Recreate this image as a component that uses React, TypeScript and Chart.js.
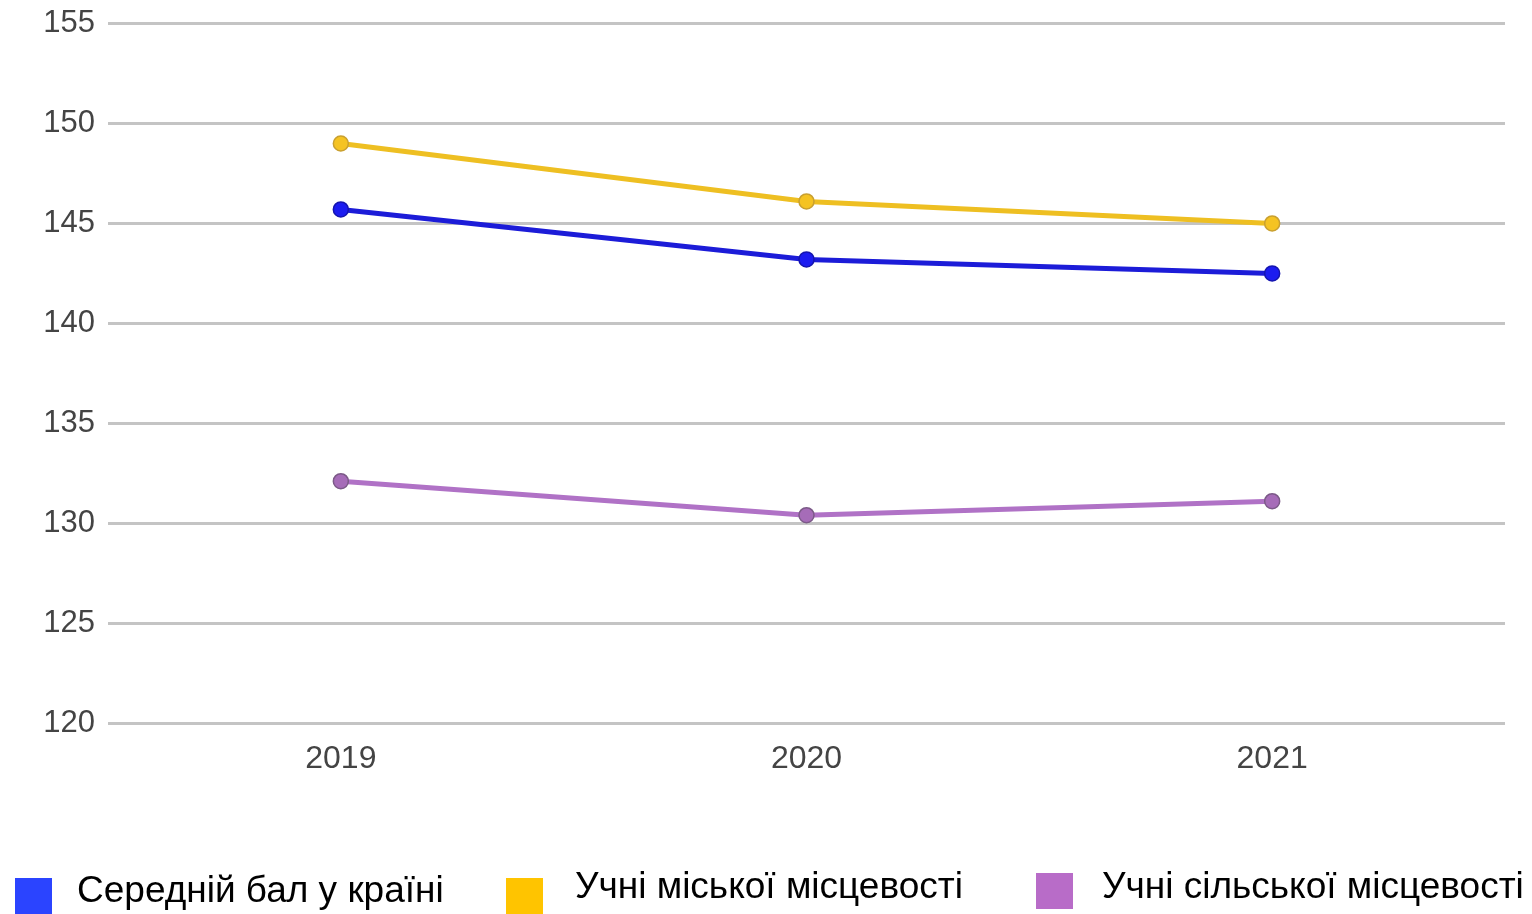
import React, { useEffect, useRef } from "react";
import { Chart, registerables } from "chart.js";

Chart.register(...registerables);

const years = ["2019", "2020", "2021"];
const countryAvg = [145.7, 143.2, 142.5];
const urban = [149.0, 146.1, 145.0];
const rural = [132.1, 130.4, 131.1];
const seriesNames = ["Середній бал у країні", "Учні міської місцевості", "Учні сільської місцевості"];
const yTicks = [120, 125, 130, 135, 140, 145, 150, 155];

const FONT = "'Liberation Sans', Arial, sans-serif";
const SHIFT = 8;
const CANVAS_H = 914 + SHIFT;

export default function App() {
  const ref = useRef<HTMLCanvasElement | null>(null);
  useEffect(() => {
    document.body.style.margin = "0";
    const ctx = ref.current!;
    const chart = new Chart(ctx, {
      type: "line",
      data: {
        labels: years,
        datasets: [
          {
            label: seriesNames[0],
            data: countryAvg,
            borderColor: "#1c1cd8",
            backgroundColor: "#1c1cf0",
            pointBorderColor: "#1515b0",
            borderWidth: 5,
            pointRadius: 7.5,
            pointBorderWidth: 1.5,
          },
          {
            label: seriesNames[1],
            data: urban,
            borderColor: "#eebf22",
            backgroundColor: "#f5c322",
            pointBorderColor: "#c9a030",
            borderWidth: 5,
            pointRadius: 7.5,
            pointBorderWidth: 1.5,
          },
          {
            label: seriesNames[2],
            data: rural,
            borderColor: "#b072c6",
            backgroundColor: "#a66cb8",
            pointBorderColor: "#7c5a88",
            borderWidth: 5,
            pointRadius: 7.5,
            pointBorderWidth: 1.5,
          },
        ],
      },
      options: {
        responsive: false,
        animation: false,
        layout: { padding: { left: 0, right: 27, top: 15, bottom: 0 } },
        plugins: { legend: { display: false }, tooltip: { enabled: false } },
        scales: {
          x: {
            offset: true,
            grid: { display: false },
            border: { display: false },
            ticks: { color: "#444", font: { family: FONT, size: 32 }, padding: 9 },
            afterFit: (s: any) => {
              s.height = CANVAS_H - (723 + SHIFT);
            },
          },
          y: {
            min: 120,
            max: 155,
            afterBuildTicks: (s: any) => {
              s.ticks = yTicks.map((v) => ({ value: v }));
            },
            grid: { color: "#c4c4c4", lineWidth: 3, drawTicks: false },
            border: { display: false },
            ticks: { color: "#444", font: { family: FONT, size: 31 }, padding: 13 },
            afterFit: (s: any) => {
              s.width = 108;
            },
          },
        },
      },
    });
    return () => chart.destroy();
  }, []);

  const legendItems = [
    { name: seriesNames[0], color: "#2b44ff", sq: { left: 15, top: 878 }, textLeft: 77, textTop: 869 },
    { name: seriesNames[1], color: "#ffc400", sq: { left: 506, top: 878 }, textLeft: 575, textTop: 865 },
    { name: seriesNames[2], color: "#b86cc8", sq: { left: 1036, top: 873 }, textLeft: 1102, textTop: 865 },
  ];

  return (
    <div style={{ position: "relative", width: 1532, height: 914, background: "#fff", overflow: "hidden" }}>
      <canvas ref={ref} width={1532} height={CANVAS_H} style={{ position: "absolute", left: 0, top: -SHIFT }} />
      {legendItems.map((it, i) => (
        <React.Fragment key={i}>
          <div
            style={{
              position: "absolute",
              left: it.sq.left,
              top: it.sq.top,
              width: 37,
              height: 36,
              background: it.color,
            }}
          />
          <div
            style={{
              position: "absolute",
              left: it.textLeft,
              top: it.textTop,
              fontFamily: FONT,
              fontSize: 37,
              lineHeight: "42px",
              color: "#000",
              whiteSpace: "nowrap",
            }}
          >
            {it.name}
          </div>
        </React.Fragment>
      ))}
    </div>
  );
}
